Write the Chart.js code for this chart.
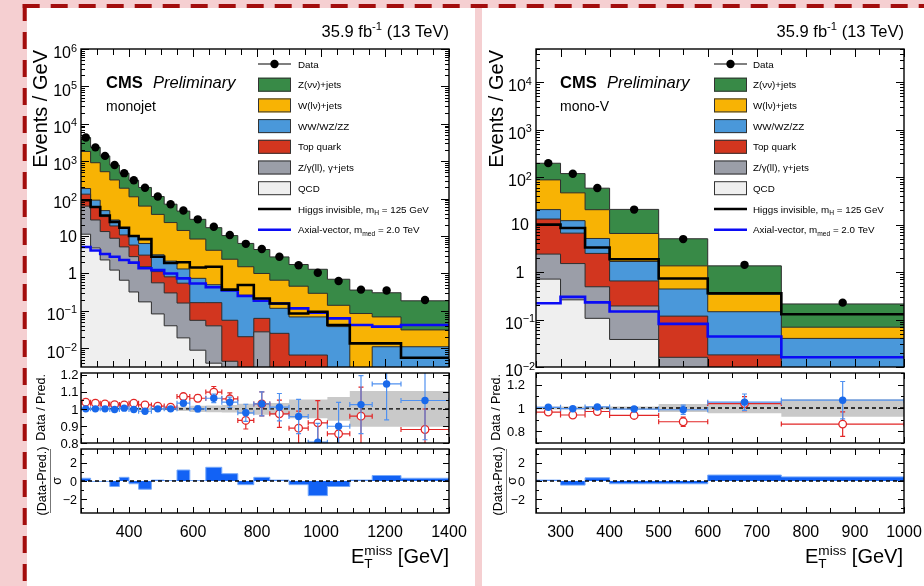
<!DOCTYPE html>
<html lang="en">
<head>
<meta charset="utf-8">
<script src="https://cdn.jsdelivr.net/npm/chart.js@4.4.1/dist/chart.umd.min.js"></script>
<style>
  html, body { margin: 0; padding: 0; }
  body { width: 924px; height: 586px; position: relative; overflow: hidden; background: #f5cfd1; }
  .sheet { position: absolute; top: 8px; height: 578px; background: #fff; }
  #sheetL { left: 27px; width: 448px; }
  #sheetR { left: 482px; width: 442px; }
  svg.border, canvas { position: absolute; left: 0; top: 0; }
</style>
</head>
<body>
<div class="sheet" id="sheetL"></div>
<div class="sheet" id="sheetR"></div>
<svg class="border" width="924" height="586">
  <line x1="22.7" y1="6" x2="924" y2="6" stroke="#a30d0d" stroke-width="4" stroke-dasharray="17 11"/>
  <line x1="24.7" y1="4" x2="24.7" y2="586" stroke="#a30d0d" stroke-width="4" stroke-dasharray="17 11"/>
</svg>
<canvas id="mainMJ" width="924" height="586"></canvas>
<canvas id="ratioMJ" width="924" height="586"></canvas>
<canvas id="pullMJ" width="924" height="586"></canvas>
<canvas id="mainMV" width="924" height="586"></canvas>
<canvas id="ratioMV" width="924" height="586"></canvas>
<canvas id="pullMV" width="924" height="586"></canvas>
<script>
var FONT = '"Liberation Sans", Arial, Helvetica, sans-serif';

// ---------- monojet category (events / GeV per bin) ----------
var edgesMJ = [250,280,310,340,370,400,430,470,510,550,590,640,690,740,790,840,900,960,1020,1090,1160,1250,1400];
var dataMJ  = [4300,2350,1390,790,480,310,196,114,71,48,28,17.8,10.7,6.2,4.5,2.8,1.66,1.05,0.63,0.37,0.35,0.195];
var znnMJ   = [2480,1438,865,477,288,199,136,76,48.1,32.4,19.7,12.6,7.9,4.84,3.37,2.11,1.28,1.0,0.56,0.275,0.236,0.155];
var wlnMJ   = [1634,821,477,289,174,102,56.8,34.8,20.8,12.8,7.58,3.67,2.04,1.25,0.814,0.544,0.388,0.226,0.103,0.085,0.058,0.020];
var vvMJ    = [54.4,32.3,14.8,8.3,5.5,4.25,3.22,2.04,1.33,0.77,0.575,0.335,0.307,0.243,0.123,0.092,0.0624,0.0624,0.038,0,0.011,0.011];
var topMJ   = [68.7,32,19.9,9.9,5.6,2.93,1.58,0.56,0.51,0.388,0.110,0.126,0.0517,0.0204,0.0356,0.0251,0.0066,0.0066,0,0,0,0];
var zllMJ   = [51.9,22.1,10.9,7.5,4.47,2.50,1.34,0.479,0.262,0.143,0.047,0.0358,0.0039,0,0.0275,0,0,0,0,0,0,0];
var qcdMJ   = [11.2,4.8,2.3,1.23,0.66,0.32,0.174,0.083,0.040,0.019,0.0089,0.0040,0.0006,0,0,0,0,0,0,0,0,0];
var higgsMJ = [91,60,35.5,24,16.6,10.0,8.3,2.8,1.91,2.0,1.45,1.51,0.37,0.49,0.214,0.158,0.085,0.095,0.042,0.0135,0.0135,0.0056];
var axialMJ = [5.1,4.1,3.3,2.8,2.3,1.95,1.38,1.23,1.0,0.74,0.54,0.43,0.35,0.25,0.186,0.158,0.117,0.089,0.063,0.042,0.038,0.042];

var postMJ    = [1.0,1.0,1.0,0.996,1.004,0.996,0.986,1.0,1.0,1.033,1.0,1.062,1.039,0.977,1.029,1.01,0.955,0.805,0.898,1.025,1.146,1.049];
var postErrMJ = [0.003,0.003,0.004,0.005,0.006,0.007,0.008,0.01,0.012,0.014,0.018,0.025,0.03,0.05,0.07,0.08,0.10,0.11,0.14,0.17,0.21,0.23];
var preMJ     = [1.039,1.033,1.029,1.025,1.023,1.033,1.023,1.016,1.01,1.072,1.062,1.098,1.059,0.932,1.029,0.971,0.887,0.918,0.854,0.957,null,0.879];
var preErrMJ  = [0.004,0.004,0.005,0.006,0.007,0.008,0.009,0.011,0.013,0.016,0.02,0.033,0.035,0.05,0.07,0.08,0.1,0.13,0.06,0.17,0,0.12];
var bandMJ    = [0.004,0.004,0.004,0.004,0.005,0.005,0.006,0.007,0.008,0.012,0.018,0.02,0.022,0.03,0.035,0.035,0.055,0.055,0.07,0.105,0.105,0.105];
var pullMJ    = [0.3,-0.05,-0.05,-0.6,0.4,-0.3,-0.9,0.1,0.05,1.2,0.05,1.5,0.8,-0.4,0.4,0.1,-0.4,-1.6,-0.6,0.1,0.6,0.3];

// ---------- mono-V category ----------
var edgesMV = [250,300,350,400,500,600,750,1000];
var dataMV  = [197,118,59,20.7,4.95,1.42,0.227];
var znnMV   = [108.5,72,37.9,14.4,3.68,1.01,0.144];
var wlnMV   = [66.8,34.5,15.5,4.83,0.91,0.194,0.029];
var vvMV    = [7.6,5.5,2.63,1.02,0.322,0.128,0.040];
var topMV   = [10.7,5.1,1.98,0.457,0.102,0.013,0];
var zllMV   = [1.68,1.25,0.384,0.155,0.011,0.004,0];
var qcdMV   = [0.71,0.26,0.106,0.038,0.005,0.001,0];
var higgsMV = [10.0,8.5,3.3,1.86,0.73,0.357,0.129];
var axialMV = [0.22,0.30,0.23,0.148,0.081,0.044,0.016];

var postMV    = [1.006,0.994,1.009,0.991,0.985,1.05,1.067];
var postErrMV = [0.008,0.01,0.012,0.015,0.04,0.07,0.16];
var preMV     = [0.965,0.94,0.97,0.936,0.882,1.038,0.862];
var preErrMV  = [0.01,0.012,0.015,0.02,0.04,0.06,0.105];
var bandMV    = [0.012,0.012,0.012,0.012,0.035,0.045,0.075];
var pullMV    = [0.1,-0.45,0.35,-0.3,-0.3,0.65,0.45];

// processes, stacked from the bottom up
var PROCS = [
  {label: 'QCD',             color: '#efefef', row: 6},
  {label: 'Z/γ(ll), γ+jets', color: '#9b9ea8', row: 5},
  {label: 'Top quark',       color: '#d2361f', row: 4},
  {label: 'WW/WZ/ZZ',        color: '#4a98da', row: 3},
  {label: 'W(lν)+jets',      color: '#f8b304', row: 2},
  {label: 'Z(νν)+jets',      color: '#388a47', row: 1}
];
var BLUE = 'rgb(25,105,235)', BLUE_ERR = 'rgb(80,145,240)', RED = 'rgb(226,38,38)';

function histPoints(edges, vals, floor) {
  var pts = vals.map(function (v, i) { return {x: edges[i], y: floor ? Math.max(v, floor) : v}; });
  pts.push({x: edges[edges.length - 1], y: pts[pts.length - 1].y});
  return pts;
}
function binCenters(edges) {
  return edges.slice(0, -1).map(function (e, i) { return (e + edges[i + 1]) / 2; });
}

function mainDatasets(edges, comps, data, higgs, axial) {
  var out = [
    {label: 'Data', row: 0, kind: 'marker', showLine: false, pointRadius: 4.2,
     pointBackgroundColor: '#000', pointBorderWidth: 0,
     data: binCenters(edges).map(function (x, i) { return {x: x, y: data[i]}; })},
    {label: 'Higgs invisible, m_{H} = 125 GeV', row: 7, kind: 'line', data: histPoints(edges, higgs, 1e-6),
     stepped: 'before', borderColor: '#000', borderWidth: 2.6, fill: false, pointRadius: 0},
    {label: 'Axial-vector, m_{med} = 2.0 TeV', row: 8, kind: 'line', data: histPoints(edges, axial, 1e-6),
     stepped: 'before', borderColor: '#0b0bf5', borderWidth: 2.6, fill: false, pointRadius: 0}
  ];
  var run = comps[0].map(function () { return 0; });
  comps.forEach(function (c, k) {
    run = run.map(function (v, i) { return v + c[i]; });
    out.push({label: PROCS[k].label, row: PROCS[k].row, kind: 'box', data: histPoints(edges, run, 1e-6),
      stepped: 'before', fill: 'start', backgroundColor: PROCS[k].color,
      borderColor: '#2e2e2e', borderWidth: 1, pointRadius: 0, clip: 0});
  });
  return out;
}

function ratioDatasets(edges, post, postErr, pre, preErr, band) {
  var cx = binCenters(edges), last = edges[edges.length - 1];
  return [
    {data: cx.map(function (x, i) { return {x: x, y: post[i]}; }), showLine: false, pointRadius: 3.7,
     pointBackgroundColor: BLUE, pointBorderWidth: 0, errY: postErr, edges: edges, errColor: BLUE_ERR},
    {data: cx.map(function (x, i) { return {x: x, y: pre[i]}; }), showLine: false, pointRadius: 3.8,
     pointBackgroundColor: '#fff', pointBorderColor: RED, pointBorderWidth: 1.3, errY: preErr, edges: edges, errColor: RED},
    {data: [{x: edges[0], y: 1}, {x: last, y: 1}], borderColor: '#000', borderWidth: 1.4, borderDash: [4, 3], pointRadius: 0},
    {data: histPoints(edges, band.map(function (e) { return 1 + e; })), stepped: 'before', fill: '+1',
     backgroundColor: '#c9c9c9', borderWidth: 0, pointRadius: 0},
    {data: histPoints(edges, band.map(function (e) { return 1 - e; })), stepped: 'before', fill: false,
     borderWidth: 0, pointRadius: 0}
  ];
}

function pullDatasets(edges, pull) {
  var last = edges[edges.length - 1];
  return [
    {data: [{x: edges[0], y: 0}, {x: last, y: 0}], borderColor: '#000', borderWidth: 1.3, borderDash: [4, 3], pointRadius: 0},
    {data: histPoints(edges, pull), stepped: 'before', fill: 'origin', backgroundColor: 'rgb(18,98,245)',
     borderColor: 'rgb(120,170,250)', borderWidth: 1, pointRadius: 0}
  ];
}

// text with ^{..} and _{..} pieces, a sub directly followed by a sup is stacked
function drawRich(ctx, s, x, y, f) {
  var parts = [], re = /([_^])\{([^}]*)\}/g, last = 0, m;
  while ((m = re.exec(s))) {
    if (m.index > last) parts.push({t: s.slice(last, m.index), k: 'n'});
    parts.push({t: m[2], k: m[1] === '^' ? 'sup' : 'sub'});
    last = re.lastIndex;
  }
  if (last < s.length) parts.push({t: s.slice(last), k: 'n'});
  var size = f.size, small = size * 0.68;
  var font = function (sz) { return (f.style || 'normal') + ' ' + (f.weight || 'normal') + ' ' + sz + 'px ' + FONT; };
  var shift = function (k) { return k === 'sup' ? -size * 0.42 : size * 0.24; };
  var items = [], w = 0;
  for (var i = 0; i < parts.length; i++) {
    var p = parts[i];
    if (p.k === 'n') {
      ctx.font = font(size);
      items.push({t: p.t, dx: w, sz: size, dy: 0});
      w += ctx.measureText(p.t).width;
    } else {
      ctx.font = font(small);
      var pw = ctx.measureText(p.t).width;
      items.push({t: p.t, dx: w, sz: small, dy: shift(p.k)});
      var q = parts[i + 1];
      if (q && q.k !== 'n' && q.k !== p.k) {
        items.push({t: q.t, dx: w, sz: small, dy: shift(q.k)});
        pw = Math.max(pw, ctx.measureText(q.t).width);
        i++;
      }
      w += pw;
    }
  }
  var x0 = f.align === 'right' ? x - w : f.align === 'center' ? x - w / 2 : x;
  ctx.textAlign = 'left';
  ctx.textBaseline = 'alphabetic';
  items.forEach(function (it) { ctx.font = font(it.sz); ctx.fillText(it.t, x0 + it.dx, y + it.dy); });
}

function linTicks(min, max, spec) {
  var minor = spec[0], major = spec[1], out = [];
  for (var n = Math.ceil(min / minor - 1e-6); n * minor <= max + 1e-9; n++) {
    var v = n * minor, r = v / major;
    out.push([v, Math.abs(r - Math.round(r)) < 1e-6 ? spec[2][0] : spec[2][1]]);
  }
  return out;
}
function logTicks(min, max, lens) {
  var out = [];
  for (var e = Math.floor(Math.log10(min)); e <= Math.ceil(Math.log10(max)); e++) {
    for (var k = 1; k <= 9; k++) {
      var v = k * Math.pow(10, e);
      if (v >= min * 0.999 && v <= max * 1.001) out.push([v, k === 1 ? lens[0] : lens[1]]);
    }
  }
  return out;
}

var errorBars = {
  id: 'errorBars',
  beforeDatasetDraw: function (chart, args) {
    var ds = chart.data.datasets[args.index];
    if (!ds.errY) return;
    var ctx = chart.ctx, a = chart.chartArea, xs = chart.scales.x, ys = chart.scales.y, c = 2.5;
    ctx.save();
    ctx.beginPath();
    ctx.rect(a.left, a.top, a.right - a.left, a.bottom - a.top);
    ctx.clip();
    ctx.strokeStyle = ds.errColor;
    ctx.lineWidth = 1.2;
    ctx.beginPath();
    ds.data.forEach(function (p, i) {
      if (p.y === null) return;
      var px = xs.getPixelForValue(p.x), py = ys.getPixelForValue(p.y);
      var xl = xs.getPixelForValue(ds.edges[i]), xr = xs.getPixelForValue(ds.edges[i + 1]);
      var yt = ys.getPixelForValue(p.y + ds.errY[i]), yb = ys.getPixelForValue(p.y - ds.errY[i]);
      ctx.moveTo(xl, py); ctx.lineTo(xr, py);
      ctx.moveTo(xl, py - c); ctx.lineTo(xl, py + c);
      ctx.moveTo(xr, py - c); ctx.lineTo(xr, py + c);
      if (yb - yt > 2) {
        ctx.moveTo(px, yt); ctx.lineTo(px, yb);
        ctx.moveTo(px - c, yt); ctx.lineTo(px + c, yt);
        ctx.moveTo(px - c, yb); ctx.lineTo(px + c, yb);
      }
    });
    ctx.stroke();
    ctx.restore();
  }
};

var logLabelsMJ = [[1e6,'10^{6}'],[1e5,'10^{5}'],[1e4,'10^{4}'],[1e3,'10^{3}'],[1e2,'10^{2}'],[10,'10'],[1,'1'],[0.1,'10^{−1}'],[0.01,'10^{−2}']];
var logLabelsMV = [[1e4,'10^{4}'],[1e3,'10^{3}'],[1e2,'10^{2}'],[10,'10'],[1,'1'],[0.1,'10^{−1}'],[0.01,'10^{−2}']];
var legendRows = [64, 84.7, 105.4, 126.1, 146.8, 167.5, 188.2, 209, 229.8];

// axes decoration per canvas: ticks on all four sides, labels, titles, legend
var decor = {
  mainMJ: {
    xt: [50, 200, [8, 6]], ylog: [8, 4],
    yl: {at: 77, align: 'right', size: 16, items: logLabelsMJ},
    legend: {x0: 258, w: 33, h: 14, tx: 298, size: 9.8, rows: legendRows},
    texts: [
      {s: '35.9 fb^{-1} (13 TeV)', x: 449, y: 37, size: 16.5, align: 'right'},
      {s: 'CMS', x: 106, y: 88, size: 16.5, weight: 'bold'},
      {s: 'Preliminary', x: 153, y: 88, size: 16.5, style: 'italic'},
      {s: 'monojet', x: 106, y: 111, size: 14},
      {s: 'Events / GeV', x: 47, y: 50, size: 20, rot: true, align: 'right'}
    ]
  },
  ratioMJ: {
    xt: [50, 200, [6, 5]], yt: [0.05, 0.1, [6, 3]],
    yl: {at: 78.5, align: 'right', size: 13, items: [[1.2,'1.2'],[1.1,'1.1'],[1,'1'],[0.9,'0.9'],[0.8,'0.8']]},
    texts: [{s: 'Data / Pred.', x: 44.5, y: 374, size: 12.5, rot: true, align: 'right'}]
  },
  pullMJ: {
    xt: [50, 200, [6, 5]], yt: [1, 2, [6, 3]],
    yl: {at: 77, align: 'right', size: 12.5, items: [[2,'2'],[0,'0'],[-2,'−2']]},
    xl: {y: 537, size: 16, items: [400, 600, 800, 1000, 1200, 1400]},
    lines: [[50.5, 449, 50.5, 513, '#777', 1]],
    texts: [
      {s: '(Data-Pred.)', x: 46, y: 481, size: 12.5, rot: true, align: 'center'},
      {s: 'σ', x: 61, y: 481, size: 12.5, rot: true, align: 'center'},
      {s: 'E_{T}^{miss} [GeV]', x: 449, y: 563, size: 20, align: 'right'}
    ]
  },
  mainMV: {
    xt: [50, 100, [8, 6]], ylog: [8, 4],
    yl: {at: 520, align: 'center', size: 16, items: logLabelsMV},
    legend: {x0: 714, w: 33, h: 14, tx: 753, size: 9.8, rows: legendRows},
    texts: [
      {s: '35.9 fb^{-1} (13 TeV)', x: 904, y: 37, size: 16.5, align: 'right'},
      {s: 'CMS', x: 560, y: 88, size: 16.5, weight: 'bold'},
      {s: 'Preliminary', x: 607, y: 88, size: 16.5, style: 'italic'},
      {s: 'mono-V', x: 560, y: 111, size: 14},
      {s: 'Events / GeV', x: 503, y: 50, size: 20, rot: true, align: 'right'}
    ]
  },
  ratioMV: {
    xt: [50, 100, [6, 5]], yt: [0.1, 0.2, [6, 3]],
    yl: {at: 525, align: 'right', size: 13, items: [[1.2,'1.2'],[1,'1'],[0.8,'0.8']]},
    texts: [{s: 'Data / Pred.', x: 499.5, y: 374, size: 12.5, rot: true, align: 'right'}]
  },
  pullMV: {
    xt: [50, 100, [6, 5]], yt: [1, 2, [6, 3]],
    yl: {at: 525, align: 'right', size: 12.5, items: [[2,'2'],[0,'0'],[-2,'−2']]},
    xl: {y: 537, size: 16, items: [300, 400, 500, 600, 700, 800, 900, 1000]},
    lines: [[506.5, 449, 506.5, 513, '#777', 1]],
    texts: [
      {s: '(Data-Pred.)', x: 502, y: 481, size: 12.5, rot: true, align: 'center'},
      {s: 'σ', x: 516, y: 481, size: 12.5, rot: true, align: 'center'},
      {s: 'E_{T}^{miss} [GeV]', x: 903, y: 563, size: 20, align: 'right'}
    ]
  }
};

var panelDecor = {
  id: 'panelDecor',
  afterDraw: function (chart) {
    var c = decor[chart.canvas.id];
    var ctx = chart.ctx, a = chart.chartArea, xs = chart.scales.x, ys = chart.scales.y;
    ctx.save();
    ctx.strokeStyle = '#000';
    ctx.lineWidth = 1;
    ctx.beginPath();
    linTicks(xs.min, xs.max, c.xt).forEach(function (t) {
      var px = Math.round(xs.getPixelForValue(t[0])) + 0.5;
      ctx.moveTo(px, a.bottom); ctx.lineTo(px, a.bottom - t[1]);
      ctx.moveTo(px, a.top); ctx.lineTo(px, a.top + t[1]);
    });
    var yt = c.ylog ? logTicks(ys.min, ys.max, c.ylog) : linTicks(ys.min, ys.max, c.yt);
    yt.forEach(function (t) {
      var py = Math.round(ys.getPixelForValue(t[0])) + 0.5;
      ctx.moveTo(a.left, py); ctx.lineTo(a.left + t[1], py);
      ctx.moveTo(a.right, py); ctx.lineTo(a.right - t[1], py);
    });
    ctx.stroke();
    ctx.lineWidth = 1.4;
    ctx.strokeRect(a.left, a.top, a.right - a.left, a.bottom - a.top);

    ctx.fillStyle = '#000';
    c.yl.items.forEach(function (it) {
      var py = ys.getPixelForValue(it[0]);
      var lift = it[1].indexOf('^') >= 0 ? 3.5 : 0;
      drawRich(ctx, it[1], c.yl.at, py + lift + c.yl.size * 0.36, {size: c.yl.size, align: c.yl.align});
    });
    if (c.xl) {
      c.xl.items.forEach(function (v) {
        drawRich(ctx, String(v), xs.getPixelForValue(v), c.xl.y, {size: c.xl.size, align: 'center'});
      });
    }
    (c.lines || []).forEach(function (l) {
      ctx.strokeStyle = l[4]; ctx.lineWidth = l[5];
      ctx.beginPath(); ctx.moveTo(l[0], l[1]); ctx.lineTo(l[2], l[3]); ctx.stroke();
    });
    (c.texts || []).forEach(function (t) {
      ctx.save();
      ctx.translate(t.x, t.y);
      if (t.rot) ctx.rotate(-Math.PI / 2);
      ctx.fillStyle = '#000';
      drawRich(ctx, t.s, 0, 0, t);
      ctx.restore();
    });

    if (c.legend) {
      var L = c.legend;
      chart.data.datasets.forEach(function (ds) {
        if (ds.row === undefined) return;
        var y = L.rows[ds.row];
        if (ds.kind === 'box') {
          ctx.fillStyle = ds.backgroundColor;
          ctx.fillRect(L.x0, y - L.h / 2, L.w, L.h);
          ctx.strokeStyle = '#333'; ctx.lineWidth = 1;
          ctx.strokeRect(L.x0 + 0.5, y - L.h / 2 + 0.5, L.w - 1, L.h - 1);
        } else if (ds.kind === 'line') {
          ctx.strokeStyle = ds.borderColor; ctx.lineWidth = ds.borderWidth;
          ctx.beginPath(); ctx.moveTo(L.x0, y); ctx.lineTo(L.x0 + L.w, y); ctx.stroke();
        } else {
          ctx.strokeStyle = '#000'; ctx.lineWidth = 1.2;
          ctx.beginPath(); ctx.moveTo(L.x0, y); ctx.lineTo(L.x0 + L.w, y); ctx.stroke();
          ctx.fillStyle = '#000';
          ctx.beginPath(); ctx.arc(L.x0 + L.w / 2, y, 4.2, 0, Math.PI * 2); ctx.fill();
        }
        ctx.fillStyle = '#000';
        drawRich(ctx, ds.label, L.tx, y + L.size * 0.36, {size: L.size});
      });
    }
    ctx.restore();
  }
};

function panel(id, frame, xr, yr, log, datasets) {
  return new Chart(document.getElementById(id), {
    type: 'line',
    data: {datasets: datasets},
    options: {
      responsive: false,
      animation: false,
      events: [],
      layout: {padding: {left: frame[0], top: frame[1], right: 924 - frame[2], bottom: 586 - frame[3]}},
      scales: {
        x: {type: 'linear', display: false, min: xr[0], max: xr[1], bounds: 'data'},
        y: {type: log ? 'logarithmic' : 'linear', display: false, min: yr[0], max: yr[1], bounds: 'data'}
      },
      plugins: {legend: {display: false}, tooltip: {enabled: false}}
    },
    plugins: [errorBars, panelDecor]
  });
}

panel('mainMJ', [81, 49, 449, 367], [250, 1400], [Math.pow(10, -2.5), 1e6], true,
  mainDatasets(edgesMJ, [qcdMJ, zllMJ, topMJ, vvMJ, wlnMJ, znnMJ], dataMJ, higgsMJ, axialMJ));
panel('ratioMJ', [81, 373, 449, 443], [250, 1400], [0.8, 1.21], false,
  ratioDatasets(edgesMJ, postMJ, postErrMJ, preMJ, preErrMJ, bandMJ));
panel('pullMJ', [81, 449, 449, 513], [250, 1400], [-3.5, 3.5], false, pullDatasets(edgesMJ, pullMJ));

panel('mainMV', [536, 49, 904, 367], [250, 1000], [0.01, 5e4], true,
  mainDatasets(edgesMV, [qcdMV, zllMV, topMV, vvMV, wlnMV, znnMV], dataMV, higgsMV, axialMV));
panel('ratioMV', [536, 373, 904, 443], [250, 1000], [0.7, 1.3], false,
  ratioDatasets(edgesMV, postMV, postErrMV, preMV, preErrMV, bandMV));
panel('pullMV', [536, 449, 904, 513], [250, 1000], [-3.5, 3.5], false, pullDatasets(edgesMV, pullMV));
</script>
</body>
</html>
